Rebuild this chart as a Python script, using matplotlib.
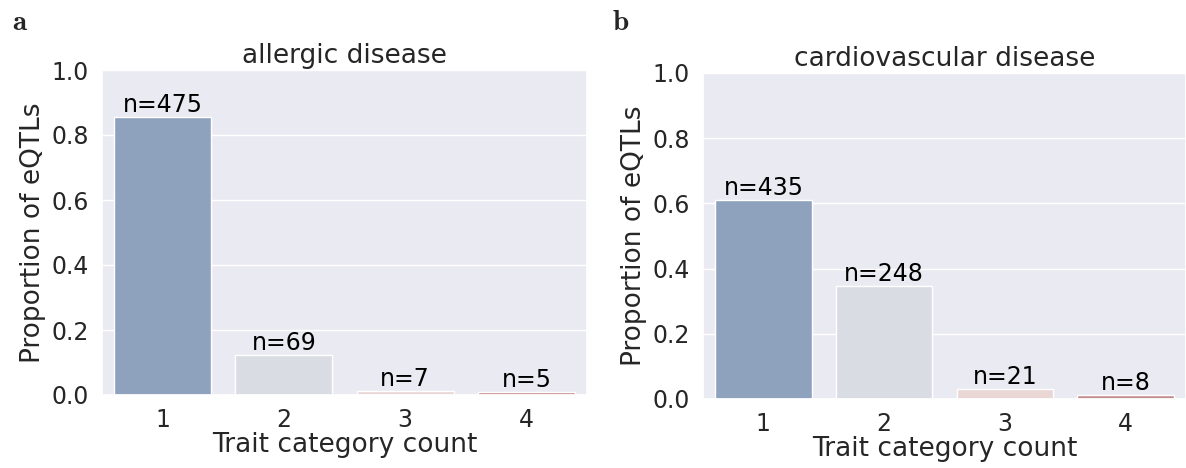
import matplotlib
matplotlib.use("Agg")
import matplotlib.pyplot as plt
import seaborn as sns

categories = ["1", "2", "3", "4"]
allergic_prop = [0.854, 0.124, 0.0126, 0.009]
allergic_n = [475, 69, 7, 5]
cardio_prop = [0.611, 0.348, 0.0295, 0.0112]
cardio_n = [435, 248, 21, 8]
titles = ["allergic disease", "cardiovascular disease"]
panel_labels = ["a", "b"]
yticks = [0.0, 0.2, 0.4, 0.6, 0.8, 1.0]

sns.set_theme(style="darkgrid")
plt.rcParams["font.family"] = ["DejaVu Sans"]
plt.rcParams["mathtext.fontset"] = "cm"

W, H = 1186, 468
fig = plt.figure(figsize=(W / 100, H / 100), dpi=100)

pal = [sns.desaturate(c, 0.75) for c in sns.color_palette("vlag", 4)]

boxes = [(102, 70, 587, 395), (703, 73, 1186, 399)]
datasets = [(allergic_prop, allergic_n), (cardio_prop, cardio_n)]
label_pos = [(12, 30), (612, 30)]

FS_TICK = 17
FS_LAB = 19
FS_ANN = 17
for i, ((x0, y0, x1, y1), (props, ns)) in enumerate(zip(boxes, datasets)):
    ax = fig.add_axes([x0 / W, 1 - y1 / H, (x1 - x0) / W, (y1 - y0) / H])
    xs = list(range(len(categories)))
    bars = ax.bar(xs, props, width=0.8, color=pal, edgecolor="white", linewidth=1)
    ax.set_xlim(-0.5, 3.5)
    ax.set_ylim(0, 1.0)
    ax.set_xticks(xs)
    ax.set_xticklabels(categories, fontsize=FS_TICK)
    ax.set_yticks(yticks)
    ax.set_yticklabels([f"{v:.1f}" for v in yticks], fontsize=FS_TICK)
    ax.grid(axis="x", visible=False)
    ax.set_xlabel("Trait category count", fontsize=FS_LAB, labelpad=0)
    ax.set_ylabel("Proportion of eQTLs", fontsize=FS_LAB, labelpad=4)
    ax.set_title(titles[i], fontsize=FS_LAB, pad=5)
    for b, n in zip(bars, ns):
        ax.annotate(f"n={n}", (b.get_x() + b.get_width() / 2, b.get_height()),
                    xytext=(0, 0), textcoords="offset points",
                    ha="center", va="bottom", fontsize=FS_ANN, color="black")
    lx, ly = label_pos[i]
    fig.text(lx / W, 1 - ly / H, r"$\mathbf{%s}$" % panel_labels[i], fontsize=21)

fig.savefig("out.png", dpi=100)
